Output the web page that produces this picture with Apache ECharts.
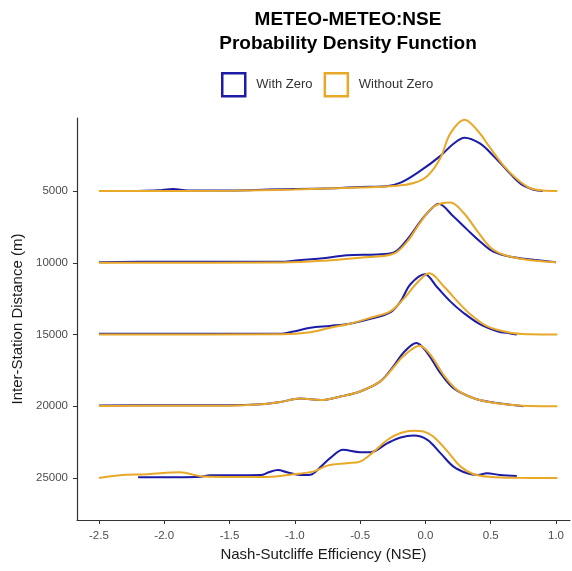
<!DOCTYPE html>
<html>
<head>
<meta charset="utf-8">
<script src="https://cdn.jsdelivr.net/npm/echarts@6/dist/echarts.min.js"></script>
<style>
  html, body { margin: 0; padding: 0; background: #fff; }
  #chart { width: 572px; height: 571px; }
</style>
</head>
<body>
<div id="chart"></div>
<script>
// ridge baselines (inter-station distance, m)
const ridgeBase = [5000, 10000, 15000, 20000, 25000];
const xTicks = [-2.5, -2.0, -1.5, -1.0, -0.5, 0.0, 0.5, 1.0];
const yTicks = [5000, 10000, 15000, 20000, 25000];

// density heights above each baseline, [NSE, height in m]
const withZero5000 = [[-2.2,0],[-2.05,50],[-1.93,140],[-1.82,30],[-1.5,40],[-1.2,100],[-1.0,140],[-0.7,200],[-0.5,280],[-0.3,330],[-0.19,580],[-0.04,1400],[0.115,2450],[0.215,3300],[0.30,3720],[0.42,3300],[0.52,2450],[0.63,1400],[0.73,500],[0.83,90],[0.9,0]];
const withoutZero5000 = [[-2.5,0],[-1.5,20],[-1.0,100],[-0.5,250],[-0.245,350],[-0.09,560],[0.015,1050],[0.115,2300],[0.19,4000],[0.30,4970],[0.40,4200],[0.50,2950],[0.60,1750],[0.70,840],[0.80,210],[0.9,30],[1.01,0]];

const withZero10000 = [[-2.5,35],[-2.0,70],[-1.5,70],[-1.1,70],[-1.01,140],[-0.75,350],[-0.6,525],[-0.37,580],[-0.245,700],[-0.14,1610],[-0.04,2870],[0.04,3710],[0.10,4110],[0.215,3220],[0.32,2310],[0.42,1470],[0.52,770],[0.65,420],[0.83,210],[1.0,35]];
const withoutZero10000 = [[-2.5,0],[-1.1,20],[-0.75,160],[-0.5,350],[-0.245,630],[-0.14,1470],[-0.04,2800],[0.065,3920],[0.19,4200],[0.29,3500],[0.40,2170],[0.50,1050],[0.60,560],[0.78,210],[1.0,35]];

const withZero15000 = [[-2.5,50],[-1.1,60],[-1.01,210],[-0.88,470],[-0.73,600],[-0.57,770],[-0.42,1090],[-0.27,1540],[-0.19,2310],[-0.115,3500],[-0.005,4200],[0.09,3290],[0.19,2310],[0.29,1520],[0.42,700],[0.55,230],[0.65,70],[0.7,0]];
const withoutZero15000 = [[-2.5,0],[-1.1,20],[-0.88,160],[-0.73,470],[-0.57,770],[-0.42,1170],[-0.27,1610],[-0.17,2450],[-0.06,3640],[0.03,4270],[0.14,3360],[0.245,2310],[0.345,1400],[0.475,560],[0.65,120],[0.8,20],[1.01,0]];

const withZero20000 = [[-2.5,50],[-2.0,70],[-1.5,60],[-1.26,140],[-1.11,300],[-0.96,540],[-0.80,430],[-0.65,680],[-0.50,1030],[-0.345,1730],[-0.245,2780],[-0.17,3710],[-0.07,4410],[0.015,3710],[0.115,2310],[0.215,1260],[0.37,560],[0.52,260],[0.67,90],[0.75,0]];
const withoutZero20000 = [[-2.5,20],[-2.0,30],[-1.5,40],[-1.26,140],[-1.11,300],[-0.96,540],[-0.80,430],[-0.65,680],[-0.50,1030],[-0.345,1730],[-0.245,2700],[-0.17,3480],[-0.045,4220],[0.04,3570],[0.14,2170],[0.245,1120],[0.37,560],[0.52,240],[0.67,90],[0.8,20],[1.01,0]];

const withZero25000 = [[-2.2,50],[-1.9,50],[-1.72,80],[-1.65,190],[-1.4,190],[-1.26,200],[-1.2,400],[-1.13,560],[-1.06,400],[-0.96,210],[-0.88,230],[-0.80,790],[-0.73,1380],[-0.63,1960],[-0.5,1800],[-0.42,1800],[-0.29,2430],[-0.19,2820],[-0.09,2960],[0.015,2660],[0.115,1730],[0.215,790],[0.32,330],[0.40,210],[0.47,330],[0.57,210],[0.70,140]];
const withoutZero25000 = [[-2.5,0],[-2.34,190],[-2.13,260],[-1.88,400],[-1.70,100],[-1.47,70],[-1.21,70],[-1.01,260],[-0.86,440],[-0.75,860],[-0.60,1030],[-0.50,1140],[-0.40,1800],[-0.29,2660],[-0.19,3130],[-0.09,3290],[-0.015,3240],[0.06,2890],[0.17,1840],[0.27,790],[0.37,260],[0.5,70],[0.7,10],[1.01,0]];

const withZero = [withZero5000, withZero10000, withZero15000, withZero20000, withZero25000];
const withoutZero = [withoutZero5000, withoutZero10000, withoutZero15000, withoutZero20000, withoutZero25000];

const BLUE = '#1c1ca6';
const ORANGE = '#e8a828';
const FONT = 'Liberation Sans, Arial, sans-serif';

// ridge curves: the peak points upward, the y axis is reversed
function ridge(name, color, pts, base) {
  return {
    name: name,
    type: 'line',
    data: pts.map(p => [p[0], base - p[1]]),
    smooth: 0.35,
    showSymbol: false,
    symbol: 'none',
    itemStyle: { color: color },
    lineStyle: { color: color, width: 2 }
  };
}

const series = [];
ridgeBase.forEach((b, i) => {
  series.push(ridge('With Zero', BLUE, withZero[i], b));
  series.push(ridge('Without Zero', ORANGE, withoutZero[i], b));
});

const chart = echarts.init(document.getElementById('chart'));
chart.setOption({
  animation: false,
  backgroundColor: '#fff',
  title: {
    text: 'METEO-METEO:NSE\nProbability Density Function',
    left: 343,
    top: 3,
    textAlign: 'center',
    textStyle: { fontFamily: FONT, fontSize: 19, fontWeight: 'bold', color: '#000', lineHeight: 24 }
  },
  legend: {
    left: 216,
    top: 67,
    itemWidth: 23,
    itemHeight: 23,
    itemGap: 11,
    textStyle: { fontFamily: FONT, fontSize: 13, color: '#333', padding: [0, 0, 0, 6] },
    data: [
      { name: 'With Zero', icon: 'rect', itemStyle: { color: 'transparent', borderColor: BLUE, borderWidth: 2.5 } },
      { name: 'Without Zero', icon: 'rect', itemStyle: { color: 'transparent', borderColor: ORANGE, borderWidth: 2.5 } }
    ]
  },
  grid: { left: 77, right: 2, top: 118, bottom: 51, containLabel: false },
  xAxis: {
    type: 'value',
    min: -2.668,
    max: 1.107,
    name: 'Nash-Sutcliffe Efficiency (NSE)',
    nameLocation: 'middle',
    nameGap: 26,
    nameTextStyle: { fontFamily: FONT, fontSize: 15, color: '#1a1a1a' },
    axisLine: { onZero: false, lineStyle: { color: '#333', width: 1.2 } },
    axisTick: { show: true, length: 4, customValues: xTicks, lineStyle: { color: '#333' } },
    axisLabel: { customValues: xTicks, fontFamily: FONT, fontSize: 11.5, color: '#4d4d4d', margin: 10,
      formatter: v => v.toFixed(1) },
    splitLine: { show: false }
  },
  yAxis: {
    type: 'value',
    inverse: true,
    min: -90,
    max: 27930,
    name: 'Inter-Station Distance (m)',
    nameLocation: 'middle',
    nameGap: 46,
    nameTextStyle: { fontFamily: FONT, fontSize: 15, color: '#1a1a1a' },
    axisLine: { show: true, onZero: false, lineStyle: { color: '#333', width: 1.2 } },
    axisTick: { show: true, length: 4, customValues: yTicks, lineStyle: { color: '#333' } },
    axisLabel: { customValues: yTicks, fontFamily: FONT, fontSize: 11.5, color: '#4d4d4d', margin: 9,
      formatter: v => String(v) },
    splitLine: { show: false }
  },
  series: series
});
</script>
</body>
</html>
